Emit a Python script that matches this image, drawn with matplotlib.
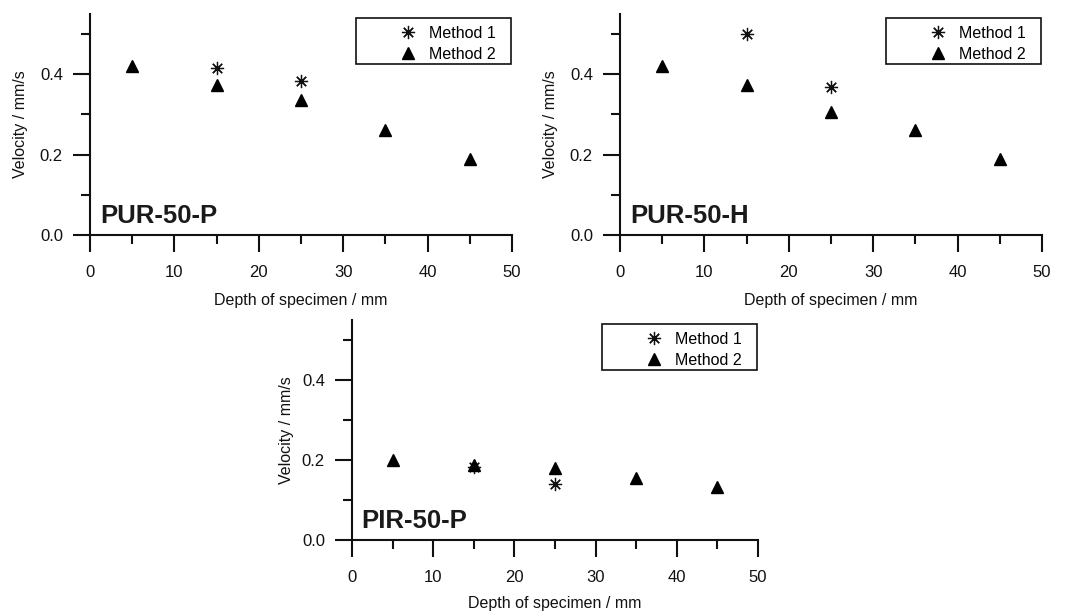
import matplotlib
matplotlib.use("Agg")
import matplotlib.pyplot as plt
from matplotlib.patches import Rectangle
from matplotlib.ticker import MultipleLocator, FormatStrFormatter

plt.rcParams['font.family'] = ['Liberation Sans', 'DejaVu Sans']

# depth positions (mm)
depth_m2 = [5, 15, 25, 35, 45]
depth_m1 = [15, 25]

# velocities (mm/s)
pur_p_m1 = [0.416, 0.384]
pur_p_m2 = [0.420, 0.373, 0.337, 0.261, 0.189]
pur_h_m1 = [0.499, 0.369]
pur_h_m2 = [0.420, 0.373, 0.306, 0.261, 0.190]
pir_p_m1 = [0.183, 0.140]
pir_p_m2 = [0.200, 0.188, 0.179, 0.155, 0.132]

panel_names = ['PUR-50-P', 'PUR-50-H', 'PIR-50-P']
series_labels = ['Method 1', 'Method 2']

W, H = 1069, 612
INK = '#111111'
FS = 11.5


def make_axes(fig, left, right, top, bottom):
    """Axes from pixel edges (origin top-left)."""
    return fig.add_axes([left / W, 1 - bottom / H, (right - left) / W, (bottom - top) / H])


def style_panel(ax, name, w_px, h_px, ylab_off, xlab_off):
    ax.set_xlim(0, 50)
    ax.set_ylim(0, 0.55)
    for s in ['top', 'right']:
        ax.spines[s].set_visible(False)
    for s in ['left', 'bottom']:
        ax.spines[s].set_linewidth(1.5)
        ax.spines[s].set_color(INK)

    ax.xaxis.set_major_locator(MultipleLocator(10))
    ax.xaxis.set_minor_locator(MultipleLocator(5))
    ax.yaxis.set_major_locator(MultipleLocator(0.2))
    ax.yaxis.set_minor_locator(MultipleLocator(0.1))
    ax.yaxis.set_major_formatter(FormatStrFormatter('%.1f'))
    ax.tick_params(which='major', direction='out', length=12.5, width=1.5,
                   color=INK, labelsize=12, labelcolor=INK)
    ax.tick_params(which='minor', direction='out', length=6.5, width=1.5, color=INK)
    ax.tick_params(axis='y', which='major', pad=7)
    ax.tick_params(axis='x', which='major', pad=9)

    ax.set_xlabel('Depth of specimen / mm', fontsize=FS, color=INK)
    ax.set_ylabel('Velocity / mm/s', fontsize=FS, color=INK)
    ax.xaxis.set_label_coords(0.5, -xlab_off / h_px)
    ax.yaxis.set_label_coords(-ylab_off / w_px, 0.5)

    ax.text(1.2, 0.03, name, fontsize=18.5, fontweight='bold', color='#1a1a1a',
            ha='left', va='baseline')

    # legend box, Origin style: frame wider than the entries
    ax.add_patch(Rectangle((1 - 156 / w_px, 1 - 50 / h_px), 155 / w_px, 46 / h_px,
                           transform=ax.transAxes, fill=False, edgecolor=INK,
                           linewidth=1.2, clip_on=False))
    ax.legend(loc='upper right', bbox_to_anchor=(1 - 9.6 / w_px, 1 - 5.5 / h_px),
              frameon=False, fontsize=FS, handlelength=1.5, handletextpad=0.6,
              labelspacing=0.38, borderaxespad=0)


def plot_panel(ax, m1, m2):
    ax.plot(depth_m1, m1, linestyle='none', marker=(8, 2, 0), markersize=9.5,
            markeredgewidth=0.9, color=INK, label=series_labels[0])
    ax.plot(depth_m2, m2, linestyle='none', marker='^', markersize=9,
            color='black', label=series_labels[1])


fig = plt.figure(figsize=(W / 100, H / 100), dpi=100)

ax1 = make_axes(fig, 90, 512, 14, 235)
plot_panel(ax1, pur_p_m1, pur_p_m2)
style_panel(ax1, panel_names[0], 422, 221, 62, 58)

ax2 = make_axes(fig, 620, 1042, 14, 235)
plot_panel(ax2, pur_h_m1, pur_h_m2)
style_panel(ax2, panel_names[1], 422, 221, 62, 58)

ax3 = make_axes(fig, 352, 758, 320, 540)
plot_panel(ax3, pir_p_m1, pir_p_m2)
style_panel(ax3, panel_names[2], 406, 220, 58, 56)

fig.savefig('out.png', dpi=100)
